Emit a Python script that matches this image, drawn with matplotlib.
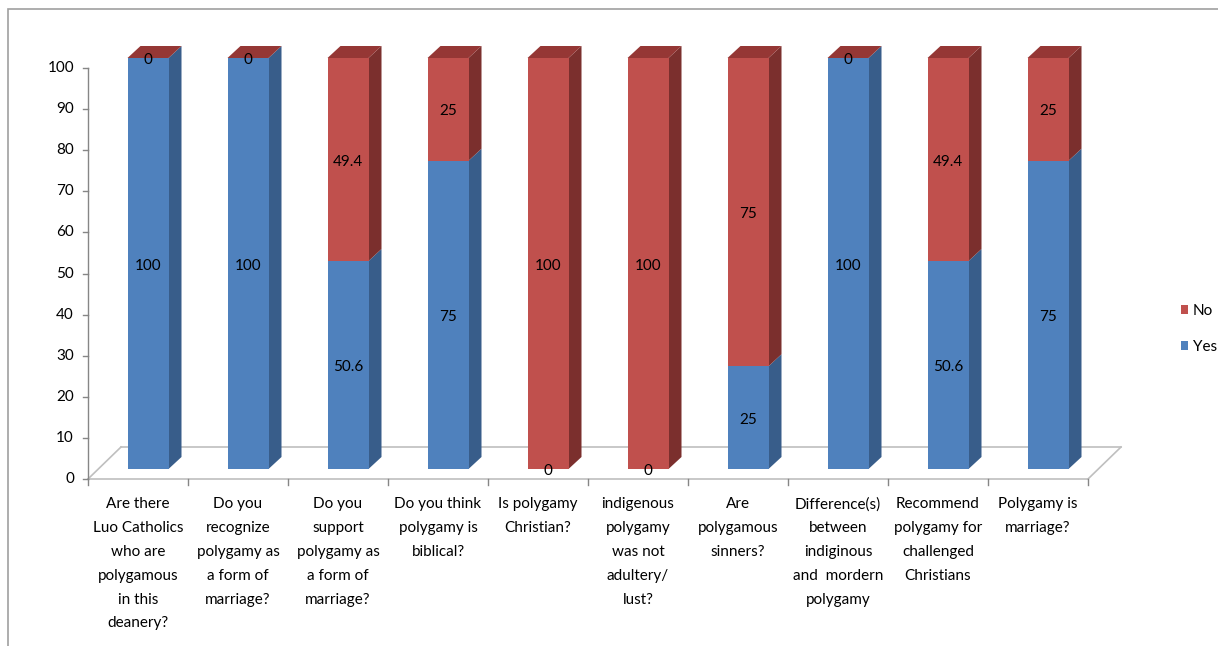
import matplotlib.pyplot as plt
from matplotlib.patches import Polygon, Rectangle, Patch
from matplotlib.lines import Line2D

questions = [
    "Are there\nLuo Catholics\nwho are\npolygamous\nin this\ndeanery?",
    "Do you\nrecognize\npolygamy as\na form of\nmarriage?",
    "Do you\nsupport\npolygamy as\na form of\nmarriage?",
    "Do you think\npolygamy is\nbiblical?",
    "Is polygamy\nChristian?",
    "indigenous\npolygamy\nwas not\nadultery/\nlust?",
    "Are\npolygamous\nsinners?",
    "Difference(s)\nbetween\nindiginous\nand  mordern\npolygamy",
    "Recommend\npolygamy for\nchallenged\nChristians",
    "Polygamy is\nmarriage?",
]
yes_vals = [100, 100, 50.6, 75, 0, 0, 25, 100, 50.6, 75]
no_vals = [0, 0, 49.4, 25, 100, 100, 75, 0, 49.4, 25]
yticks = [0, 10, 20, 30, 40, 50, 60, 70, 80, 90, 100]

plt.rcParams['font.family'] = ['Lato', 'DejaVu Sans']

W, H = 1218, 646
fig = plt.figure(figsize=(W / 100, H / 100), dpi=100)
# front plane of the 3d box, in pixels: x 88..1088, y 479..68
ax = fig.add_axes([88 / W, (H - 479) / H, 1000 / W, 411 / H])
ax.set_xlim(0, 10)
ax.set_ylim(0, 100)
ax.axis('off')

px_x = 10 / 1000.0   # data units per pixel
px_y = 100 / 411.0

# offsets for the fake 3d look
off_x, off_y = 10 * px_x, 10 * px_y       # bar front vs. axis front
dep_x, dep_y = 13 * px_x, 12 * px_y       # bar depth
flr_x, flr_y = 33 * px_x, 32 * px_y       # floor depth
bar_w = 41 * px_x

grey = '#BFBFBF'
# floor
ax.add_line(Line2D([0, 10], [0, 0], color=grey, lw=1.2, clip_on=False))
ax.add_line(Line2D([flr_x, 10 + flr_x], [flr_y, flr_y], color=grey, lw=1.2, clip_on=False))
ax.add_line(Line2D([0, flr_x], [0, flr_y], color=grey, lw=1.2, clip_on=False))
ax.add_line(Line2D([10, 10 + flr_x], [0, flr_y], color=grey, lw=1.2, clip_on=False))

# y axis + ticks
ax.add_line(Line2D([0, 0], [0, 100], color='#868686', lw=1.0, clip_on=False))
for t in yticks:
    ax.add_line(Line2D([-5 * px_x, 0], [t, t], color='#868686', lw=1.0, clip_on=False))
    ax.text(-14 * px_x, t, str(t), ha='right', va='center', fontsize=11, color='black')
# x ticks
for i in range(11):
    ax.add_line(Line2D([i, i], [0, -6 * px_y], color='#868686', lw=1.0, clip_on=False))

colors = {
    'yes': ('#4F81BD', '#385D8A', '#3F6797'),
    'no': ('#C0504D', '#7B2F2D', '#953735'),
}


def draw_seg(x0, y0, y1, cols):
    front, side, _ = cols
    x1 = x0 + bar_w
    ax.add_patch(Polygon([(x1, y0), (x1 + dep_x, y0 + dep_y), (x1 + dep_x, y1 + dep_y), (x1, y1)],
                         closed=True, fc=side, ec='none', clip_on=False, zorder=3))
    ax.add_patch(Rectangle((x0, y0), bar_w, y1 - y0, fc=front, ec='none', clip_on=False, zorder=3))


def draw_top(x0, y, cols):
    top = cols[2]
    x1 = x0 + bar_w
    ax.add_patch(Polygon([(x0, y), (x0 + dep_x, y + dep_y), (x1 + dep_x, y + dep_y), (x1, y)],
                         closed=True, fc=top, ec='none', clip_on=False, zorder=3))


for i in range(len(questions)):
    x0 = i + 0.5 - bar_w / 2 + off_x
    b = off_y
    draw_seg(x0, b, b + yes_vals[i], colors['yes'])
    draw_seg(x0, b + yes_vals[i], b + yes_vals[i] + no_vals[i], colors['no'])
    draw_top(x0, b + yes_vals[i] + no_vals[i], colors['no'])
    cx = x0 + bar_w / 2
    ax.text(cx, b + yes_vals[i] / 2 - 0.5, f"{yes_vals[i]:g}", ha='center', va='center',
            fontsize=11, zorder=5)
    ax.text(cx, b + yes_vals[i] + no_vals[i] / 2 - 0.5, f"{no_vals[i]:g}", ha='center', va='center',
            fontsize=11, zorder=5)
    ax.text(i + 0.5, -18 * px_y, questions[i], ha='center', va='top', fontsize=11,
            linespacing=1.9, color='black')

# legend
handles = [Patch(fc='#C0504D', ec='none'), Patch(fc='#4F81BD', ec='none')]
fig.legend(handles, ['No', 'Yes'], loc='center left', bbox_to_anchor=(1167 / W, 1 - 329 / H),
           frameon=False, fontsize=11, handlelength=0.5, handleheight=0.5,
           handletextpad=0.3, labelspacing=1.45)

# outer chart border
fig.add_artist(Rectangle((7.5 / W, -0.1), 1.2, 1.1 - 9.5 / H, transform=fig.transFigure,
                         fill=False, ec='#A0A0A0', lw=1.2))

fig.savefig('out.png', dpi=100)
